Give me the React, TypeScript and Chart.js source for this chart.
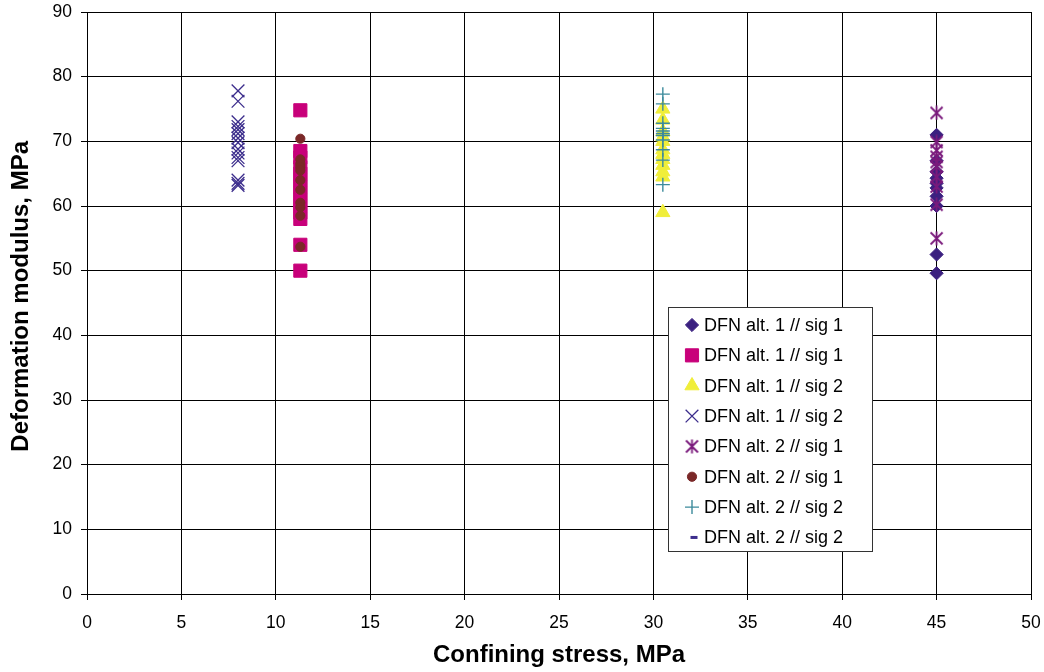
import React, { useEffect, useRef } from "react";
import { Chart, registerables } from "chart.js";
import { drawPoint } from "chart.js/helpers";

Chart.register(...registerables);

// ---- data ----
const xTicks = [0, 5, 10, 15, 20, 25, 30, 35, 40, 45, 50];
const yTicks = [0, 10, 20, 30, 40, 50, 60, 70, 80, 90];

const seriesNames = [
  "DFN alt. 1 // sig 1",
  "DFN alt. 1 // sig 1",
  "DFN alt. 1 // sig 2",
  "DFN alt. 1 // sig 2",
  "DFN alt. 2 // sig 1",
  "DFN alt. 2 // sig 1",
  "DFN alt. 2 // sig 2",
  "DFN alt. 2 // sig 2",
];

const stressA1S1a = 45;
const modA1S1a = [71, 67, 65.3, 64.3, 63.5, 62.8, 61.5, 60, 52.5, 49.6];

const stressA1S1b = 11.3;
const modA1S1b = [74.8, 68.5, 67.5, 66, 65, 64, 63, 62, 61, 60, 59, 58, 54, 50];

const stressA1S2a = 30.5;
const modA1S2a = [75, 73.3, 71.5, 70.7, 70, 68.7, 68, 67.2, 66.3, 65.3, 64.5, 59];

const stressA1S2b = 8;
const modA1S2b = [77.8, 76.2, 73, 72.3, 71.8, 71.2, 70.5, 69.8, 68.8, 68.2, 67.5, 67, 64, 63.5, 63.2];

const stressA2S1a = 45;
const modA2S1a = [74.4, 69.9, 68.6, 67.6, 66.8, 66.1, 64.5, 63, 60.2, 55];

const stressA2S1b = 11.3;
const modA2S1b = [70.4, 67.2, 66.5, 66, 65.5, 64, 62.5, 60.5, 59.8, 58.5, 53.7];

const stressA2S2a = 30.5;
const modA2S2a = [77.3, 75.8, 72.8, 72, 71.6, 71.2, 70.9, 70.2, 68.7, 67.1, 63.3];

const stressA2S2b = 30.5;
const modA2S2b: number[] = [];

const seriesStress = [stressA1S1a, stressA1S1b, stressA1S2a, stressA1S2b, stressA2S1a, stressA2S1b, stressA2S2a, stressA2S2b];
const seriesMods = [modA1S1a, modA1S1b, modA1S2a, modA1S2b, modA2S1a, modA2S1b, modA2S2a, modA2S2b];

const FONT = "'Liberation Sans', Arial, sans-serif";

function makeAsterisk(color: string): HTMLCanvasElement {
  const c = document.createElement("canvas");
  c.width = 15;
  c.height = 15;
  const g = c.getContext("2d")!;
  g.strokeStyle = color;
  g.lineWidth = 1.8;
  g.beginPath();
  g.moveTo(1.5, 1.5);
  g.lineTo(13.5, 13.5);
  g.moveTo(13.5, 1.5);
  g.lineTo(1.5, 13.5);
  g.moveTo(7.5, 0.5);
  g.lineTo(7.5, 14.5);
  g.stroke();
  return c;
}

function zeroPad(s: any) {
  s.paddingTop = 0;
  s.paddingBottom = 0;
  s.paddingLeft = 0;
  s.paddingRight = 0;
}

export default function App() {
  const ref = useRef<HTMLCanvasElement | null>(null);

  useEffect(() => {
    if (!ref.current) return;
    const asterisk = makeAsterisk("#7a1a7c");
    const styles: any[] = [
      { pointStyle: "rectRot", radius: 6.6, color: "#3b2080", bw: 1 },
      { pointStyle: "rect", radius: 9.3, color: "#c8007a", bw: 1 },
      { pointStyle: "triangle", radius: 8.2, color: "#f0ee3a", bw: 1 },
      { pointStyle: "crossRot", radius: 9, color: "#3c2d8c", bw: 1.3 },
      { pointStyle: asterisk, radius: 7, color: "#7a1a7c", bw: 1.3 },
      { pointStyle: "circle", radius: 4.6, color: "#7a2828", bw: 1 },
      { pointStyle: "cross", radius: 7, color: "#3d8b9c", bw: 1.4 },
      { pointStyle: "dash", radius: 4, color: "#3c2d8c", bw: 3 },
    ];

    const datasets = seriesNames.map((name, i) => ({
      label: name,
      data: seriesMods[i].map((v) => ({ x: seriesStress[i], y: v })),
      pointStyle: styles[i].pointStyle,
      pointRadius: styles[i].radius,
      pointHoverRadius: styles[i].radius,
      backgroundColor: styles[i].color,
      borderColor: styles[i].color,
      pointBorderWidth: styles[i].bw,
      showLine: false,
      order: 10 - i,
    }));

    const legendPlugin = {
      id: "boxLegend",
      afterDraw(chart: any) {
        const ctx = chart.ctx as CanvasRenderingContext2D;
        const x0 = 668.5, y0 = 307.5, w = 204, h = 244;
        ctx.save();
        ctx.fillStyle = "#ffffff";
        ctx.fillRect(x0, y0, w, h);
        ctx.strokeStyle = "#333333";
        ctx.lineWidth = 1;
        ctx.strokeRect(x0, y0, w, h);
        ctx.font = `18px ${FONT}`;
        ctx.textBaseline = "middle";
        ctx.textAlign = "left";
        seriesNames.forEach((name, i) => {
          const cy = 325 + i * 30.35;
          const st = styles[i];
          if (st.pointStyle === "dash") {
            ctx.fillStyle = st.color;
            ctx.fillRect(690.5, cy - 1.5, 7, 3);
          } else {
            ctx.fillStyle = st.color;
            ctx.strokeStyle = st.color;
            ctx.lineWidth = st.bw;
            drawPoint(ctx, { pointStyle: st.pointStyle, radius: st.radius, rotation: 0, borderWidth: st.bw } as any, 692, cy);
          }
          ctx.fillStyle = "#000000";
          ctx.fillText(name, 704, cy + 1);
        });
        ctx.restore();
      },
    };

    const chart = new Chart(ref.current, {
      type: "scatter",
      data: { datasets },
      plugins: [legendPlugin],
      options: {
        responsive: false,
        animation: false,
        devicePixelRatio: 1,
        layout: { padding: { left: 0, top: 12, right: 13, bottom: 0 } },
        plugins: { legend: { display: false }, tooltip: { enabled: false } },
        scales: {
          x: {
            type: "linear",
            min: 0,
            max: 50,
            afterBuildTicks: (s: any) => {
              s.ticks = xTicks.map((v) => ({ value: v }));
            },
            afterFit: (s: any) => {
              s.height = 78;
              zeroPad(s);
            },
            grid: { color: "#000000", lineWidth: 1, tickLength: 6, drawTicks: true },
            border: { color: "#000000", width: 1 },
            ticks: { color: "#000000", font: { family: FONT, size: 17.5 }, padding: 13, maxRotation: 0 },
            title: {
              display: true,
              text: "Confining stress, MPa",
              color: "#000000",
              font: { family: FONT, size: 24, weight: "bold" },
              padding: { top: 0, bottom: 2 },
            },
          },
          y: {
            type: "linear",
            min: 0,
            max: 90,
            afterBuildTicks: (s: any) => {
              s.ticks = yTicks.map((v) => ({ value: v }));
            },
            afterFit: (s: any) => {
              s.width = 87;
              zeroPad(s);
            },
            grid: { color: "#000000", lineWidth: 1, tickLength: 6, drawTicks: true },
            border: { color: "#000000", width: 1 },
            ticks: { color: "#000000", font: { family: FONT, size: 17.5 }, padding: 9 },
            title: {
              display: true,
              text: "  Deformation modulus, MPa",
              color: "#000000",
              font: { family: FONT, size: 24, weight: "bold" },
              padding: { top: 7, bottom: 0 },
            },
          },
        },
      } as any,
    });
    return () => chart.destroy();
  }, []);

  return (
    <div style={{ position: "absolute", left: 0, top: 0, width: 1044, height: 672, background: "#ffffff" }}>
      <canvas ref={ref} width={1044} height={672} style={{ display: "block" }} />
    </div>
  );
}
